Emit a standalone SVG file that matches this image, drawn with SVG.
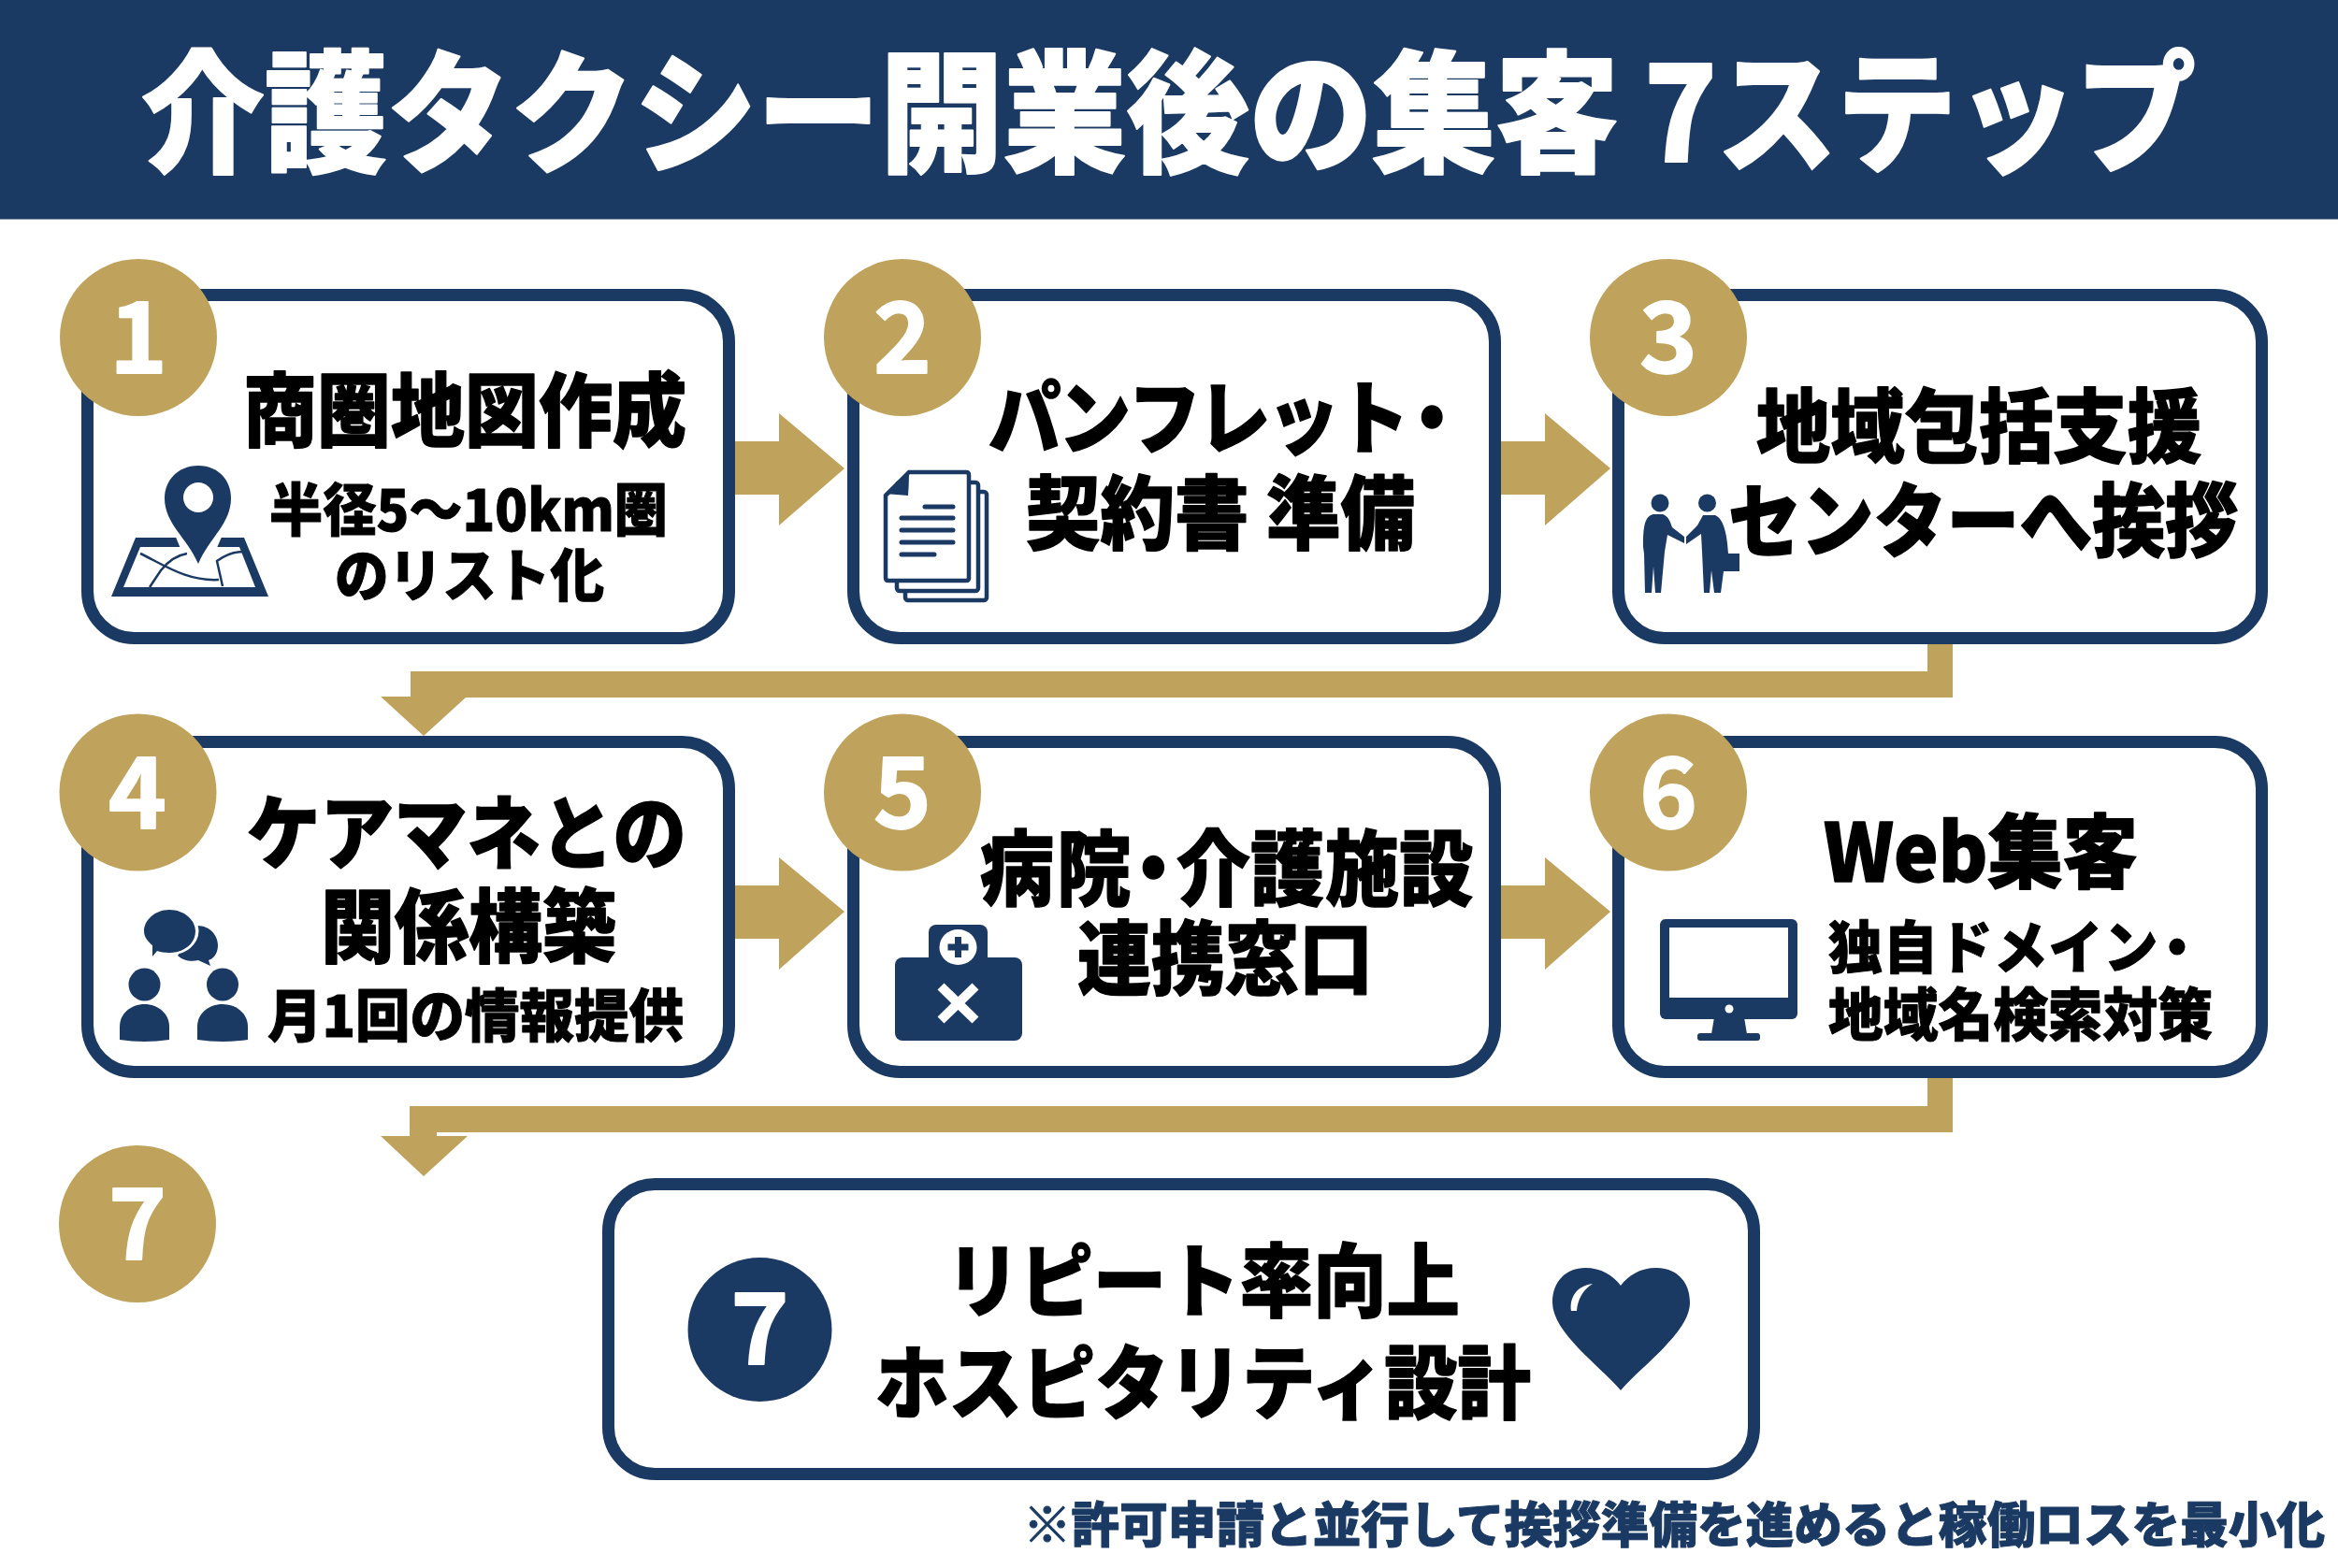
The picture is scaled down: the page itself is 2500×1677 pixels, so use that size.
<svg xmlns="http://www.w3.org/2000/svg" width="2500" height="1677" viewBox="0 0 2500 1677">
<style>
text{font-family:"Noto Sans CJK JP","Noto Sans",sans-serif;font-weight:900;fill:#000;stroke-linejoin:round}
.box{fill:#fff;stroke:#1b3a63;stroke-width:13}
.badge{fill:#bfa35c}
.num{fill:#fff;stroke:#fff;stroke-width:2;font-size:105px;font-weight:700;text-anchor:middle}
.h{font-size:86px;stroke:#000;stroke-width:1.4}
.s{font-size:61px;stroke:#000;stroke-width:1}
.title{font-size:141px;fill:#fff;stroke:#fff;stroke-width:2}
.foot{font-size:52px;fill:#1b3a63;stroke:#1b3a63;stroke-width:1}
.n{fill:#1b3a63}
.w{fill:#fff}
.gold{fill:#bfa35c}
.line{fill:none;stroke:#1b3a63;stroke-width:5;stroke-linecap:round}
</style>
<rect width="2500" height="1677" fill="#fff"/>
<g id="header">
<rect width="2500" height="234.500" class="n"/>
<text class="title" y="173"><tspan x="151" textLength="1580" lengthAdjust="spacingAndGlyphs">介護タクシー開業後の集客</tspan> <tspan x="1758" textLength="590" lengthAdjust="spacingAndGlyphs">7ステップ</tspan></text>
</g>
<g id="connectors">
<polygon class="gold" points="786,472 833,472 833,442 903,501 833,562 833,529 786,529"/>
<polygon class="gold" points="1604,472 1652,472 1652,442 1722,501 1652,562 1652,529 1604,529"/>
<polygon class="gold" points="786,947 833,947 833,917 903,975 833,1037 833,1004 786,1004"/>
<polygon class="gold" points="1604,947 1652,947 1652,917 1722,975 1652,1037 1652,1004 1604,1004"/>
<polygon class="gold" points="2061,689 2088,689 2088,746 498,746 453,787 407,745 439,745 439,718 2061,718"/>
<polygon class="gold" points="2061,1153 2088,1153 2088,1211 467,1211 467,1215 500,1215 453,1258 407,1215 438,1215 438,1183 2061,1183"/>
</g>
<g id="step1">
<rect class="box" x="93.500" y="315.500" width="686" height="367" rx="50"/>
<circle class="badge" cx="148" cy="361" r="84"/>
<text class="num" x="148" y="399">1</text>
<text class="h" x="260" y="471" textLength="474" lengthAdjust="spacingAndGlyphs">商圏地図作成</text>
<text class="s" x="288" y="568" textLength="426" lengthAdjust="spacingAndGlyphs">半径5〜10km圏</text>
<text class="s" x="358" y="638" textLength="288" lengthAdjust="spacingAndGlyphs">のリスト化</text>
<g id="icon-map">
<path class="n" fill-rule="evenodd" d="M145,575H261L287,638H119ZM150,585L132,628H273L256,585Z"/>
<polygon class="w" points="187,572 238,572 224,604 200,604"/>
<path d="M150,592C175,604 200,622 234,620M160,628L172,610C180,600 188,594 200,592M238,627L232,600C240,594 250,590 260,590" fill="none" stroke="#1b3a63" stroke-width="2.500"/>
<path class="n" d="M212,603C200,575 176,560 176,533C176,512 192,498 212,498C232,498 247,512 247,533C247,560 224,575 212,603Z"/>
<ellipse class="w" cx="212" cy="532" rx="16" ry="16"/>
</g>
</g>
<g id="step2">
<rect class="box" x="912.500" y="315.500" width="686" height="367" rx="50"/>
<circle class="badge" cx="965" cy="361" r="84"/>
<text class="num" x="965" y="399">2</text>
<text class="h" transform="translate(1057,479) scale(.9,1)" x="0 83 166 249 331 414 484">パンフレット・</text>
<text class="h" x="1097" y="581" textLength="416" lengthAdjust="spacingAndGlyphs">契約書 準備</text>
<g id="icon-docs">
<rect x="968" y="526" width="87" height="116" rx="3" fill="#fff" stroke="#1b3a63" stroke-width="4.500"/>
<rect x="959" y="516" width="87" height="116" rx="3" fill="#fff" stroke="#1b3a63" stroke-width="4.500"/>
<path d="M972,505H1033Q1036,505 1036,508V618Q1036,621 1033,621H950Q947,621 947,618V530Z" fill="#fff" stroke="#1b3a63" stroke-width="4.500"/>
<path class="n" d="M972,504L946,528L971,530Q972,518 972,504Z"/>
<path class="line" d="M989,542H1019M964,554H1019M964,567H1019M964,580H1019M964,593H999"/>
</g>
</g>
<g id="step3">
<rect class="box" x="1730.500" y="315.500" width="688" height="367" rx="50"/>
<circle class="badge" cx="1784" cy="361" r="84"/>
<text class="num" x="1784" y="399">3</text>
<text class="h" x="1878" y="488" textLength="476" lengthAdjust="spacingAndGlyphs">地域包括支援</text>
<text class="h" x="1848" y="589" textLength="545" lengthAdjust="spacingAndGlyphs">センターへ挨拶</text>
<g id="icon-handshake" class="n">
<circle cx="1775" cy="538" r="9.500"/>
<circle cx="1825.500" cy="538" r="9.500"/>
<path d="M1768,550H1778C1784,552 1786,558 1788,564L1801,574V581L1783,572L1780,590L1776,634H1770L1768,606L1766,634H1759L1758,592L1757,585C1757,565 1758,552 1768,550Z"/>
<path d="M1821,551H1834C1844,555 1847,575 1848,592H1860V611H1843L1840,634H1833L1830,610L1828,634H1822L1820,590L1819,571L1803,582V574L1815,562Z"/>
</g>
</g>
<g id="step4">
<rect class="box" x="93.500" y="793.500" width="686" height="353" rx="50"/>
<circle class="badge" cx="147.500" cy="847.500" r="84"/>
<text class="num" x="147" y="886">4</text>
<text class="h" x="264" y="923" textLength="470" lengthAdjust="spacingAndGlyphs">ケアマネとの</text>
<text class="h" x="343" y="1023" textLength="316" lengthAdjust="spacingAndGlyphs">関係構築</text>
<text class="s" x="286" y="1109" textLength="445" lengthAdjust="spacingAndGlyphs">月1回の情報提供</text>
<g id="icon-chat">
<path class="n" d="M211,990C225,990 233,1001 233,1011C233,1019 229,1025 223,1027L225,1033L212,1027C204,1029 195,1027 190,1022Z"/>
<ellipse cx="181.500" cy="995.500" rx="31" ry="26" class="w"/>
<path class="n" d="M181,973C197,973 209,984 209,996C209,1009 197,1019 181,1019C176,1019 171,1018 168,1017L163,1023L163,1011C158,1007 154,1002 154,996C154,984 166,973 181,973Z"/>
<ellipse class="n" cx="154.500" cy="1053" rx="17" ry="17.500"/>
<ellipse class="n" cx="238" cy="1053" rx="17" ry="17.500"/>
<path class="n" d="M128,1112V1098C128,1084 140,1074 154.500,1074C169,1074 181,1084 181,1098V1112Q154,1116 128,1112Z"/>
<path class="n" d="M211,1112V1098C211,1084 223,1074 238,1074C253,1074 265,1084 265,1098V1112Q238,1116 211,1112Z"/>
</g>
</g>
<g id="step5">
<rect class="box" x="912.500" y="793.500" width="686" height="353" rx="50"/>
<circle class="badge" cx="965" cy="847.500" r="84"/>
<text class="num" x="965" y="886">5</text>
<text class="h" style="font-size:88px" transform="translate(1048,961) scale(.9,1)" x="0 91 162 233 321 410 498">病院・介護施設</text>
<text class="h" x="1152" y="1057" textLength="316" lengthAdjust="spacingAndGlyphs">連携窓口</text>
<g id="icon-medical">
<rect class="n" x="993" y="989" width="63" height="50" rx="8"/>
<rect class="n" x="957" y="1024" width="136" height="89" rx="8"/>
<ellipse class="w" cx="1024.500" cy="1013" rx="20" ry="19"/>
<path d="M1024.500,1002V1024M1013.500,1013H1035.500" stroke="#1b3a63" stroke-width="7" fill="none"/>
<path d="M1006,1055L1043,1091M1043,1055L1006,1091" stroke="#fff" stroke-width="10" fill="none"/>
</g>
</g>
<g id="step6">
<rect class="box" x="1730.500" y="793.500" width="688" height="353" rx="50"/>
<circle class="badge" cx="1784" cy="847.500" r="84"/>
<text class="num" x="1784" y="886">6</text>
<text class="h" x="1950" y="943" textLength="336" lengthAdjust="spacingAndGlyphs">Web集客</text>
<text class="s" transform="translate(1955,1036) scale(.95,1)" x="0 62 124 186 248 310 362">独自ドメイン・</text>
<text class="s" x="1955" y="1108" textLength="411" lengthAdjust="spacingAndGlyphs">地域名検索対策</text>
<g id="icon-monitor">
<rect class="n" x="1775" y="983" width="147" height="107" rx="6"/>
<rect class="w" x="1785" y="992" width="127" height="75"/>
<circle class="w" cx="1849" cy="1079" r="4.500"/>
<polygon class="n" points="1833,1088 1865,1088 1868,1106 1830,1106"/>
<rect class="n" x="1815" y="1105" width="67" height="8" rx="3"/>
</g>
</g>
<g id="badge7">
<circle class="badge" cx="147" cy="1309" r="84"/>
<text class="num" x="147" y="1347">7</text>
</g>
<g id="step7">
<rect class="box" x="650.500" y="1266.500" width="1225" height="310" rx="50"/>
<circle class="n" cx="812.500" cy="1422" r="77"/>
<text class="num" x="812.500" y="1459">7</text>
<text class="h" x="1012" y="1402" textLength="549" lengthAdjust="spacingAndGlyphs">リピート率向上</text>
<text class="h" x="936" y="1511" textLength="701" lengthAdjust="spacingAndGlyphs">ホスピタリティ設計</text>
<g id="icon-heart">
<path class="n" d="M1733,1487C1710,1460 1660,1425 1660,1393C1660,1370 1675,1356 1695,1356C1712,1356 1725,1364 1733,1375C1741,1364 1754,1356 1771,1356C1792,1356 1807,1370 1807,1393C1807,1425 1756,1460 1733,1487Z"/>
<path d="M1680,1402C1678,1388 1686,1375 1703,1373C1692,1380 1687,1390 1686,1402Z" fill="#fff"/>
</g>
</g>
<g id="note">
<text class="foot" x="1094" y="1650" textLength="1392" lengthAdjust="spacingAndGlyphs">※許可申請と並行して挨拶準備を進めると稼働ロスを最小化</text>
</g>
</svg>
